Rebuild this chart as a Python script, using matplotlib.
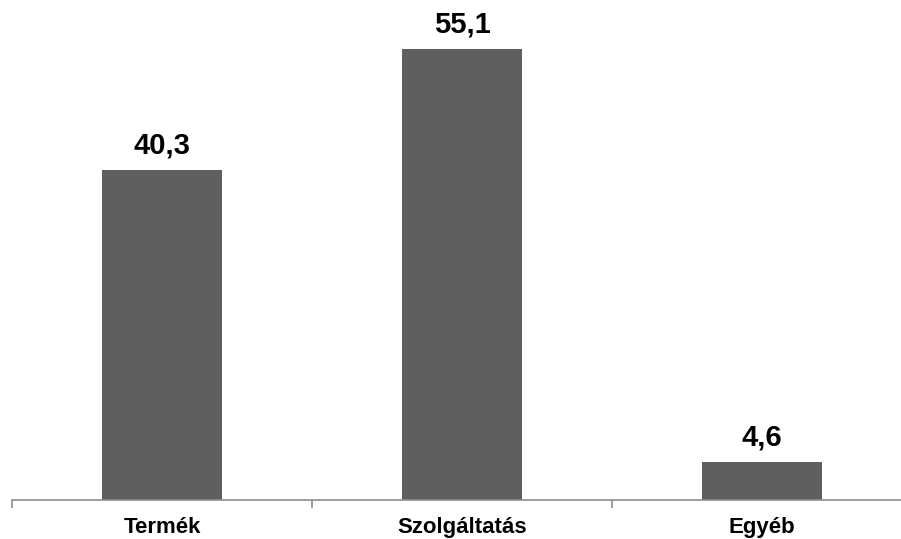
import matplotlib
matplotlib.use("Agg")
import matplotlib.pyplot as plt

categories = ["Termék", "Szolgáltatás", "Egyéb"]
values = [40.3, 55.1, 4.6]
value_labels = ["40,3", "55,1", "4,6"]

plt.rcParams["font.family"] = ["Liberation Sans", "DejaVu Sans"]

fig = plt.figure(figsize=(9.01, 5.39), dpi=100)
ax = fig.add_axes([12 / 901, 39 / 539, 900 / 901, 500 / 539])

x = list(range(len(categories)))
ax.bar(x, values, width=0.4, color="#5f5f5f", zorder=2)

for xi, v, lab in zip(x, values, value_labels):
    ax.annotate(lab, (xi, v), xytext=(0, 12), textcoords="offset points",
                ha="center", va="baseline", fontsize=21, fontweight="bold",
                color="black")

ax.set_xlim(-0.5, 2.5)
ax.set_ylim(0, 61.05)

for side in ("top", "right", "left"):
    ax.spines[side].set_visible(False)
ax.spines["bottom"].set_color("#8c8c8c")
ax.spines["bottom"].set_linewidth(1.2)

ax.set_yticks([])
ax.set_xticks([-0.5, 0.5, 1.5, 2.5])
ax.set_xticklabels([])
ax.tick_params(axis="x", which="major", length=6, width=1.2, color="#8c8c8c")
ax.set_xticks(x, minor=True)
ax.set_xticklabels(categories, minor=True, fontsize=16, fontweight="bold")
ax.tick_params(axis="x", which="minor", length=0, pad=12.5)

fig.savefig("out.png", dpi=100)
